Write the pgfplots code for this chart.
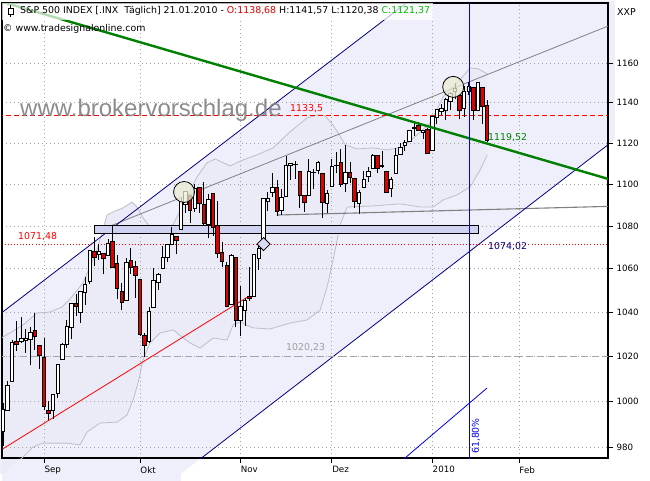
\documentclass[border=0pt]{standalone}
\usepackage{fontspec}
\setmainfont{DejaVu Sans}
\newfontfamily\wmfont{Liberation Sans}
\usepackage{pgfplots}
\pgfplotsset{compat=1.18}
\usepackage{pgfplotstable}

\definecolor{lav}{RGB}{239,239,251}
\definecolor{bandfill}{RGB}{235,235,248}
\definecolor{bandline}{RGB}{190,190,200}
\definecolor{navy}{RGB}{0,0,128}
\definecolor{candlered}{RGB}{225,0,0}
\definecolor{darkgreen}{RGB}{0,128,0}
\definecolor{hdrgreen}{RGB}{0,190,0}
\definecolor{boxblue}{RGB}{208,210,242}
\definecolor{cream}{RGB}{235,235,212}
\definecolor{gridc}{RGB}{160,168,160}
\definecolor{wmgrey}{RGB}{128,128,128}
\definecolor{timeblue}{RGB}{0,0,235}

\newcommand\hdr{\fontsize{9.4}{11}\selectfont}

% daily candles, d = trading day (0 = 1 Sep 2009)
\pgfplotstableread{
d o h l c
-9 986.88 999.61 980.62 996.46
-8 996.41 1008.92 996.39 1007.37
-7 1009.06 1027.59 1009.06 1026.13
-6 1026.59 1035.82 1022.48 1025.57
-5 1026.63 1037.75 1026.21 1028.00
-4 1027.35 1032.47 1021.57 1028.12
-3 1027.81 1033.33 1016.20 1030.98
-2 1031.62 1039.47 1023.13 1028.93
-1 1025.21 1025.21 1014.62 1020.62
0 1019.52 1028.45 996.28 998.04
1 996.07 1000.34 991.97 994.75
2 996.12 1003.43 992.25 1003.24
3 1003.84 1016.48 1001.65 1016.40
4 1018.67 1026.07 1018.67 1025.39
5 1025.36 1036.34 1023.97 1033.37
6 1032.99 1044.14 1028.04 1044.14
7 1043.92 1048.18 1038.40 1042.73
8 1040.15 1049.74 1035.00 1049.34
9 1049.03 1056.04 1043.42 1052.63
10 1053.99 1068.76 1052.87 1068.76
11 1067.87 1074.77 1061.20 1065.49
12 1066.60 1071.52 1064.27 1068.30
13 1067.14 1067.28 1057.46 1064.66
14 1066.35 1073.81 1066.35 1071.66
15 1072.69 1080.15 1060.39 1060.87
16 1062.56 1066.29 1045.85 1050.78
17 1049.48 1053.47 1041.17 1044.38
18 1045.38 1065.13 1045.38 1062.98
19 1063.69 1069.62 1057.83 1060.61
20 1061.02 1063.40 1046.47 1057.08
21 1054.91 1054.91 1029.45 1029.85
22 1029.71 1030.60 1019.95 1025.21
23 1026.87 1042.58 1025.92 1040.46
24 1042.02 1060.55 1042.02 1054.72
25 1053.65 1058.02 1050.10 1057.58
26 1060.03 1070.67 1060.03 1065.48
27 1065.28 1071.51 1063.00 1071.49
28 1071.63 1079.46 1071.63 1076.19
29 1074.96 1075.30 1066.71 1073.19
30 1078.68 1093.17 1078.68 1092.02
31 1090.36 1096.56 1086.41 1096.56
32 1094.67 1094.67 1081.53 1087.68
33 1088.22 1100.17 1086.48 1097.91
34 1098.64 1098.64 1086.16 1091.06
35 1090.36 1101.36 1080.77 1081.40
36 1080.96 1095.21 1074.31 1092.91
37 1095.62 1095.83 1075.49 1079.60
38 1080.36 1091.75 1065.23 1066.95
39 1067.54 1072.48 1060.62 1063.41
40 1061.51 1063.26 1042.19 1042.63
41 1043.69 1066.83 1043.69 1066.11
42 1065.41 1065.41 1033.38 1036.19
43 1036.18 1052.18 1029.38 1042.88
44 1040.92 1046.36 1033.94 1045.41
45 1047.14 1061.00 1045.15 1046.50
46 1047.30 1066.65 1047.30 1066.63
47 1064.95 1071.48 1059.32 1069.30
48 1072.31 1093.19 1072.31 1093.08
49 1091.86 1096.42 1087.40 1093.01
50 1096.04 1105.37 1093.81 1098.51
51 1098.31 1101.97 1084.90 1087.24
52 1087.59 1097.79 1085.33 1093.48
53 1094.13 1113.69 1094.13 1109.30
54 1109.22 1110.52 1102.19 1110.32
55 1109.44 1111.10 1102.70 1109.80
56 1106.44 1106.44 1088.40 1094.90
57 1094.66 1094.66 1086.81 1091.38
58 1094.86 1112.38 1094.86 1106.24
59 1105.83 1107.56 1097.63 1105.65
60 1106.49 1111.18 1104.75 1110.63
61 1105.47 1105.47 1083.74 1091.49
62 1091.07 1097.24 1086.25 1095.63
63 1098.89 1112.28 1098.89 1108.86
64 1109.03 1115.58 1105.29 1109.24
65 1110.59 1117.28 1098.74 1099.92
66 1100.43 1119.13 1096.52 1105.98
67 1105.52 1110.72 1100.83 1103.25
68 1103.04 1103.04 1088.61 1091.94
69 1091.07 1097.04 1085.89 1095.95
70 1098.69 1106.25 1098.69 1102.35
71 1103.96 1108.50 1101.34 1106.41
72 1107.84 1114.76 1107.84 1114.11
73 1114.11 1114.11 1105.35 1107.93
74 1108.61 1116.21 1107.96 1109.18
75 1106.36 1106.36 1095.88 1096.08
76 1097.86 1103.74 1093.88 1102.47
77 1105.31 1117.68 1105.31 1114.05
78 1114.51 1120.27 1114.51 1118.02
79 1118.84 1121.58 1116.00 1120.59
80 1121.08 1126.48 1121.08 1126.48
81 1127.53 1130.38 1123.51 1127.78
82 1128.55 1130.38 1126.08 1126.20
83 1125.53 1126.42 1121.94 1126.42
84 1126.60 1127.64 1114.81 1115.10
85 1116.56 1133.87 1116.56 1132.99
86 1132.66 1136.63 1129.66 1136.52
87 1135.71 1139.19 1133.95 1137.14
88 1136.27 1142.46 1131.32 1141.69
89 1140.52 1145.39 1136.22 1144.98
90 1145.96 1149.74 1142.02 1146.98
91 1143.81 1143.81 1131.77 1136.22
92 1137.31 1148.40 1133.18 1145.68
93 1145.68 1150.41 1143.80 1148.46
94 1147.72 1147.77 1131.39 1136.03
95 1136.03 1150.45 1135.77 1150.23
96 1147.95 1147.95 1129.25 1138.04
97 1138.68 1141.57 1120.38 1121.37
}\ohlc

% band, upper and lower curve
\pgfplotstableread{
d p
-9.2 1028.5
-4.60 1034.2
-1.53 1039.7
1.31 1040.1
3.94 1042.4
5.70 1046.1
8.54 1053.4
11.61 1068.8
13.80 1085.3
15.55 1087.2
17.31 1088.7
19.28 1091.5
20.37 1089.1
21.69 1083.9
23.22 1079.6
25.41 1079.2
28.26 1080.6
31.33 1093.9
33.52 1103.6
35.71 1110.4
37.46 1112.3
40.74 1108.9
43.59 1111.8
46.66 1114.3
50.16 1117.7
53.89 1125.6
57.61 1132.5
60.02 1134.0
61.56 1133.5
63.09 1129.5
64.40 1125.1
65.94 1119.2
68.57 1117.2
72.07 1117.7
75.14 1116.7
78.64 1118.2
81.71 1124.1
84.56 1130.0
87.40 1143.0
90.47 1150.0
93.32 1157.6
95.07 1157.1
97.04 1154.6
}\bbup

\pgfplotstableread{
d p
-9.2 968.5
-4.60 976.0
-2.41 980.3
-0.22 982.0
5.04 982.0
7.89 981.2
9.42 986.8
12.27 990.7
15.99 991.1
18.18 994.2
19.50 1000.7
20.59 1008.2
21.69 1018.5
23.22 1026.1
25.41 1030.6
28.26 1032.0
30.23 1028.8
31.98 1026.1
34.17 1023.8
37.02 1028.3
40.09 1027.4
41.40 1034.2
42.94 1035.6
45.78 1032.9
49.51 1032.4
53.89 1035.1
57.61 1036.5
60.46 1041.0
61.99 1051.6
63.31 1064.1
64.84 1080.6
66.37 1089.1
72.07 1089.6
77.98 1090.6
82.37 1089.1
85.22 1089.1
87.40 1092.5
90.47 1094.9
93.32 1098.8
95.51 1107.0
97.04 1114.3
}\bblow

\begin{document}
\begin{tikzpicture}[x=1pt,y=1pt]
\path (-2,-22) rectangle (648,458);
\begin{axis}[
  set layers,
  scale only axis, width=606pt, height=455pt,
  ymode=log,
  xmin=-9.2, xmax=123.5, ymin=975.6, ymax=1191,
  axis line style={black, line width=1.2pt},
  xtick={0,21,43,63,85,104},
  xticklabels={Sep,Okt,Nov,Dez,2010,Feb},
  ytick={980,1000,1020,1040,1060,1080,1100,1120,1140,1160},
  yticklabels={980,1000,1020,1040,1060,1080,1100,1120,1140,1160},
  yminorticks=false,
  xtick pos=bottom, ytick pos=right, yticklabel pos=right,
  tick align=outside, major tick length=5pt,
  tick style={black, line width=0.8pt},
  grid=major,
  major grid style={gridc, line width=0.8pt, dash pattern=on 0.8pt off 3.2pt},
  tick label style={font=\fontsize{8.7}{10}\selectfont},
  xticklabel style={anchor=north west, xshift=-3pt},
  yticklabel style={anchor=west},
]
% channel area
\addplot[draw=none, fill=lav, on layer=axis background, forget plot]
  coordinates {(-10,1038.6) (80,1192.2) (125,1192.2) (125,1121.8) (30,968.9) (-10,968.9)} --cycle;
% band area: under upper curve, then restore under lower curve
\addplot[draw=none, fill=bandfill, on layer=axis background, forget plot]
  table[x=d, y=p] {\bbup} \closedcycle;
\addplot[draw=none, fill=lav, on layer=axis background, forget plot]
  table[x=d, y=p] {\bblow} \closedcycle;
\addplot[draw=none, fill=white, on layer=axis background, forget plot]
  coordinates {(30,968.9) (125,1121.8) (125,960) (30,960)} --cycle;

% band lines
\addplot[bandline, line width=0.8pt, forget plot] table[x=d, y=p] {\bbup};
\addplot[bandline, line width=0.8pt, forget plot] table[x=d, y=p] {\bblow};

% trend lines
\addplot[gray, line width=0.8pt, forget plot] coordinates {(14.9,1080.4) (123.5,1179.0)};
\addplot[gray, line width=1.1pt, forget plot] coordinates {(51,1085.3) (123.5,1089.4)};
\addplot[red, line width=0.8pt, forget plot] coordinates {(-9.05,979.5) (44.9,1047.4)};
\addplot[navy, line width=0.8pt, forget plot] coordinates {(-10,1038.6) (80,1192.2)};
\addplot[navy, line width=0.8pt, forget plot] coordinates {(30,968.9) (125,1121.8)};
\addplot[timeblue, line width=0.8pt, forget plot] coordinates {(77,972.2) (97,1006.0)};

% levels
\addplot[red, line width=0.9pt, dash pattern=on 0.9pt off 2.2pt, forget plot] coordinates {(-10,1071.48) (125,1071.48)};
\addplot[red, line width=0.9pt, dash pattern=on 5pt off 3pt, forget plot] coordinates {(-10,1133.5) (125,1133.5)};
\addplot[gray!70, line width=0.9pt, dash pattern=on 7pt off 4pt, forget plot] coordinates {(-10,1020.23) (125,1020.23)};

% zone box
\addplot[draw=black, fill=boxblue, line width=1pt, forget plot]
  coordinates {(10.95,1076.7) (95.07,1076.7) (95.07,1080.2) (10.95,1080.2)} --cycle;

% candles
\pgfplotstablegetrowsof{\ohlc}
\pgfmathtruncatemacro\lastrow{\pgfplotsretval-1}
\pgfplotsforeachungrouped \i in {0,...,\lastrow}{%
  \pgfplotstablegetelem{\i}{d}\of\ohlc \let\cd\pgfplotsretval
  \pgfplotstablegetelem{\i}{o}\of\ohlc \let\co\pgfplotsretval
  \pgfplotstablegetelem{\i}{h}\of\ohlc \let\ch\pgfplotsretval
  \pgfplotstablegetelem{\i}{l}\of\ohlc \let\cl\pgfplotsretval
  \pgfplotstablegetelem{\i}{c}\of\ohlc \let\cc\pgfplotsretval
  \pgfmathsetmacro\xa{\cd-0.38}%
  \pgfmathsetmacro\xb{\cd+0.38}%
  \ifdim\cc pt<\co pt \def\cfill{candlered}\else\def\cfill{white}\fi
  \edef\candle{%
    \noexpand\addplot[black, line width=0.8pt, forget plot] coordinates {(\cd,\cl) (\cd,\ch)};%
    \noexpand\addplot[draw=black, fill=\cfill, line width=0.8pt, forget plot]
      coordinates {(\xa,\co) (\xb,\co) (\xb,\cc) (\xa,\cc)} --cycle;%
  }%
  \candle
}

% green trend line and time line
\addplot[darkgreen, line width=2.4pt, forget plot] coordinates {(-9.2,1191.6) (123.5,1102.6)};
\addplot[timeblue, line width=1pt, forget plot] coordinates {(93.1,970) (93.1,1200)};

% markers
\addplot[only marks, mark=*, mark size=10.5pt,
  mark options={fill=cream, fill opacity=0.75, draw=black, line width=0.8pt}, forget plot]
  coordinates {(30.67,1096.3) (89.6,1148.0)};
\addplot[only marks, mark=square*, mark size=4.6pt,
  mark options={rotate=45, fill=boxblue!80!white, draw=black, line width=0.8pt}, forget plot]
  coordinates {(48.08,1071.6)};
\end{axis}

% header
\fill[white, opacity=0.7] (0,438) rectangle (431,455);
\draw[black, line width=0.7pt] (8.5,453) -- (8.5,441);
\draw[black, fill=white, line width=0.7pt] (6,450) rectangle (11,444);
\node[anchor=west, inner sep=0pt, font=\hdr] at (18,447)
  {S\&P 500 INDEX [.INX\ \ Täglich] 21.01.2010 - \textcolor{candlered}{O:1138,68} H:1141,57 L:1120,38 \textcolor{hdrgreen}{C:1121,37}};
\node[anchor=west, inner sep=0pt, font=\hdr] at (1,429) {© www.tradesignalonline.com};
\node[anchor=west, inner sep=0pt, font=\hdr] at (615,446) {XXP};

% level labels
\node[anchor=west, inner sep=0pt, font=\hdr, text=red] at (288,349.7) {1133,5};
\node[anchor=west, inner sep=0pt, font=\hdr, text=red] at (16,221) {1071,48};
\node[anchor=west, inner sep=0pt, font=\hdr, text=gray!75] at (284,110) {1020,23};
\node[anchor=west, inner sep=0pt, font=\hdr, text=navy] at (486,211) {1074,02};
\node[anchor=west, inner sep=0pt, font=\hdr, text=darkgreen] at (486,320.5) {1119,52};
\node[rotate=90, inner sep=0pt, font=\hdr, text=timeblue] at (474,22) {61,80\%};

% watermark
\node[anchor=base west, inner sep=0pt, font=\wmfont\fontsize{24}{24}\selectfont, text=wmgrey, text opacity=0.9]
  at (18,341) {www.brokervorschlag.de};
\end{tikzpicture}
\end{document}
